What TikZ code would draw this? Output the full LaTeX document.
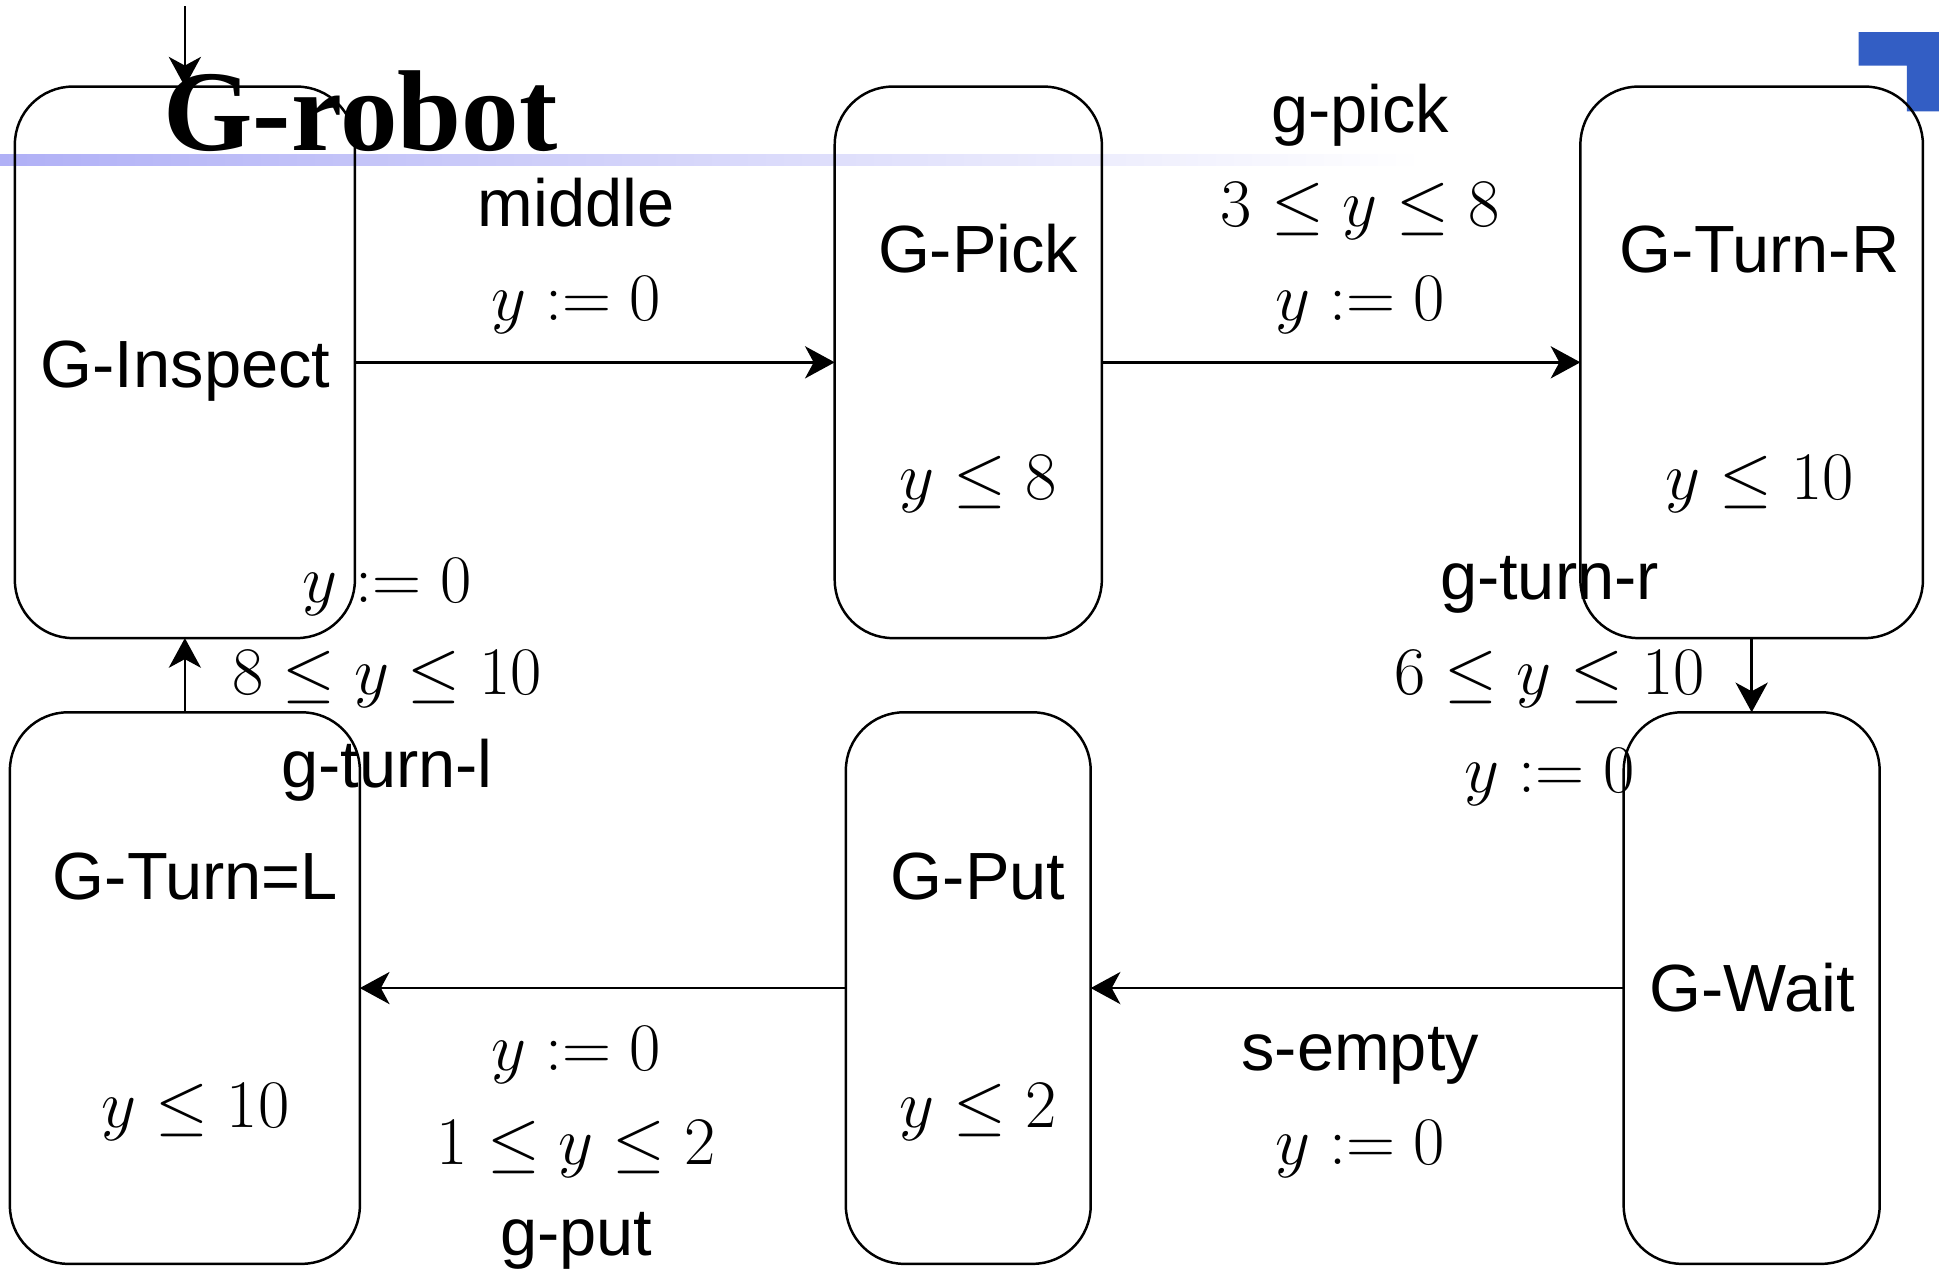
\RequirePackage{fix-cm}
\documentclass[tikz,border=0pt]{standalone}
\usepackage{fontspec}
\newfontfamily\sansf{Liberation Sans}
\newfontfamily\titlef{Liberation Serif}
\usetikzlibrary{arrows.meta}
\definecolor{cornerblue}{RGB}{51,94,196}
\definecolor{rulelav}{RGB}{176,176,246}
\begin{document}
\begin{tikzpicture}[x=1pt,y=-1pt,
  statebox/.style={draw, line width=2pt, rounded corners=47pt, inner sep=0pt, outer sep=0pt},
  lbl/.style={anchor=base, inner sep=0pt, font=\fontsize{54}{62}\selectfont\sansf},
  mlbl/.style={anchor=base, inner sep=0pt, font=\fontsize{55}{62}\selectfont},
  trans/.style={line width=2pt, -{Stealth[length=24pt,width=26pt,inset=7pt]}}]
\useasboundingbox (0,0) rectangle (1568,1029);

% slide decoration: corner mark and fading rule
\fill[cornerblue] (1503,26) -- (1568,26) -- (1568,90) -- (1542,90) -- (1542,53) -- (1503,53) -- cycle;
\shade[left color=rulelav, right color=white] (0,125) rectangle (1150,134);

% locations
\node[statebox, minimum width=275pt, minimum height=446pt] (inspect) at (149.5,293) {};
\node[statebox, minimum width=216pt, minimum height=446pt] (pick) at (783,293) {};
\node[statebox, minimum width=277pt, minimum height=446pt] (turnr) at (1416.5,293) {};
\node[statebox, minimum width=283pt, minimum height=446pt] (turnl) at (149.5,799) {};
\node[statebox, minimum width=198pt, minimum height=446pt] (put) at (783,799) {};
\node[statebox, minimum width=207pt, minimum height=446pt] (wait) at (1416.5,799) {};

% location names and invariants
\node[lbl] (nInspect) at (150,313) {G-Inspect};
\node[lbl] (nPick) at (791,220) {G-Pick};
\node[mlbl] (iPick) at (791,404) {$y\leq 8$};
\node[lbl] (nTurnR) at (1423,220) {G-Turn-R};
\node[mlbl] (iTurnR) at (1423,404) {$y\leq 10$};
\node[lbl] (nTurnL) at (158,727) {G-Turn=L};
\node[mlbl] (iTurnL) at (158,912) {$y\leq 10$};
\node[lbl] (nPut) at (791,727) {G-Put};
\node[mlbl] (iPut) at (791,912) {$y\leq 2$};
\node[lbl] (nWait) at (1417,818) {G-Wait};

% title
\node[anchor=base west, inner sep=0pt, font=\fontsize{93}{100}\selectfont\titlef\bfseries] (title) at (132,122) {G-robot};

% transitions
\coordinate (init) at (149.5,5);
\draw[trans] (init) -- (inspect.north);
\draw[trans] (inspect.east) -- (pick.west);
\draw[trans] (pick.east) -- (turnr.west);
\draw[trans] (turnr.south) -- (wait.north);
\draw[trans] (wait.west) -- (put.east);
\draw[trans] (put.west) -- (turnl.east);
\draw[trans] (turnl.north) -- (inspect.south);

% transition labels
\node[lbl] (aMiddle) at (466,183) {middle};
\node[mlbl] (rMiddle) at (466,259) {$y := 0$};

\node[lbl] (aPick) at (1100,107) {g-pick};
\node[mlbl] (gPick) at (1100,183) {$3\leq y\leq 8$};
\node[mlbl] (rPick) at (1100,259) {$y := 0$};

\node[lbl] (aTurnR) at (1253,485) {g-turn-r};
\node[mlbl] (gTurnR) at (1253,562) {$6\leq y\leq 10$};
\node[mlbl] (rTurnR) at (1253,641) {$y := 0$};

\node[lbl] (aEmpty) at (1100,866) {s-empty};
\node[mlbl] (rEmpty) at (1100,942) {$y := 0$};

\node[mlbl] (rPut) at (466,866) {$y := 0$};
\node[mlbl] (gPut) at (466,942) {$1\leq y\leq 2$};
\node[lbl] (aPut) at (466,1015) {g-put};

\node[mlbl] (rTurnL) at (313,487) {$y := 0$};
\node[mlbl] (gTurnL) at (313,562) {$8\leq y\leq 10$};
\node[lbl] (aTurnL) at (313,637) {g-turn-l};
\end{tikzpicture}
\end{document}
